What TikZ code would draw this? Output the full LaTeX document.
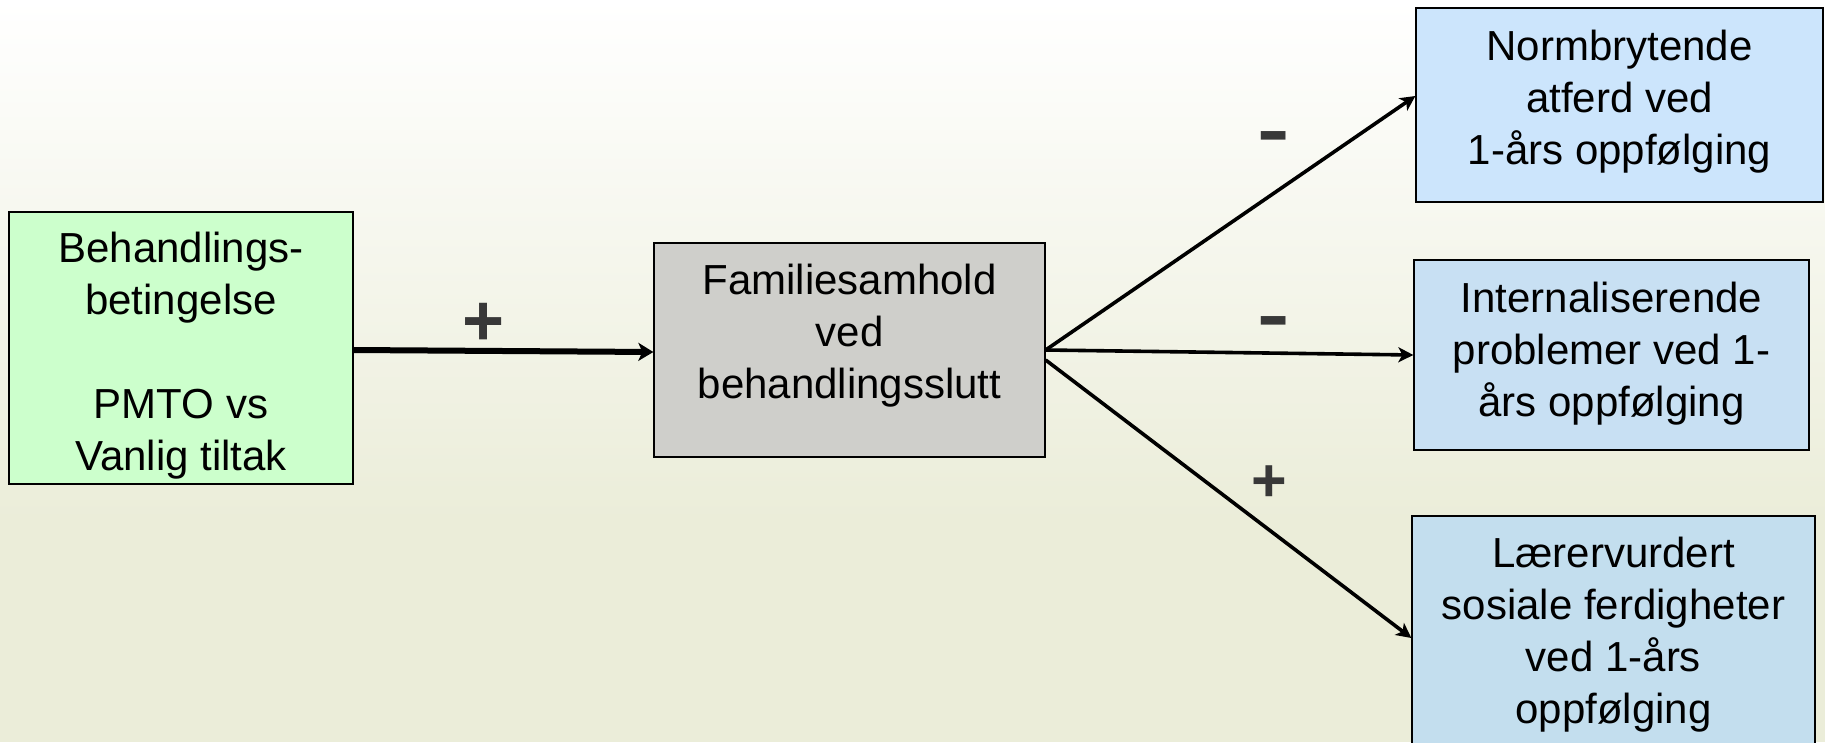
\documentclass[tikz,border=0pt]{standalone}
\usepackage{fontspec}
\setmainfont{Liberation Sans}
\usetikzlibrary{arrows.meta}
\definecolor{bgc}{HTML}{EBEDD9}
\definecolor{greenbox}{HTML}{CCFFCC}
\definecolor{graybox}{HTML}{CFCFCB}
\definecolor{blueA}{HTML}{CCE5FC}
\definecolor{blueB}{HTML}{C8E0F3}
\definecolor{blueC}{HTML}{C3DEEE}
\definecolor{signc}{HTML}{383838}
\tikzset{
  box/.style={draw=black, line width=1.3pt, inner sep=0pt},
  conn/.style={draw=black, line width=3.6pt, -{Stealth[length=15pt,width=15pt,inset=4pt]}},
  thickconn/.style={draw=black, line width=6pt, -{Stealth[length=15pt,width=18pt,inset=4pt]}},
  sign/.style={text=signc, font=\fontsize{72}{72}\selectfont\bfseries, inner sep=0pt},
  smallsign/.style={sign, font=\fontsize{61}{61}\selectfont\bfseries},
  txt/.style={align=center, font=\fontsize{42}{52}\selectfont, inner sep=0pt}
}
\begin{document}
\begin{tikzpicture}[x=1pt,y=-1pt]
\useasboundingbox (0,0) rectangle (1825,742);
\clip (0,0) rectangle (1825,742);
\shade[top color=white, bottom color=bgc] (0,0) rectangle (1825,520);
\fill[bgc] (0,519) rectangle (1825,742);

\node[box, fill=greenbox, minimum width=344pt, minimum height=272pt,
  label={[txt, yshift=-8pt]center:{Behandlings-\\betingelse\\[52pt]PMTO vs\\Vanlig tiltak}}] (beh) at (181,348) {};
\node[box, fill=graybox, minimum width=391pt, minimum height=214pt,
  label={[txt, yshift=14pt]center:{Familiesamhold\\ved\\behandlingsslutt}}] (fam) at (849.5,350) {};
\node[box, fill=blueA, minimum width=407pt, minimum height=194pt,
  label={[txt, yshift=3.5pt]center:{Normbrytende\\atferd ved\\1-års oppfølging}}] (nb) at (1619.5,105) {};
\node[box, fill=blueB, minimum width=395pt, minimum height=190pt,
  label={[txt, yshift=1pt]center:{Internaliserende\\problemer ved 1-\\års oppfølging}}] (ip) at (1611.5,355) {};
\node[box, fill=blueC, minimum width=403pt, minimum height=244pt,
  label={[txt, yshift=3.5pt]center:{Lærervurdert\\sosiale ferdigheter\\ved 1-års\\oppfølging}}] (ls) at (1613.5,638) {};

\draw[thickconn] ([yshift=-2pt]beh.east) -- ([yshift=-2pt]fam.west);
\draw[conn] (fam.east) -- ([yshift=9pt]nb.west);
\draw[conn] (fam.east) -- (ip.west);
\draw[conn] ([yshift=-10pt]fam.east) -- (ls.west);

\node[sign] (s1) at (484,324) {+};
\node[sign] (s2) at (1274,143) {\scalebox{1.35}[1]{-}};
\node[sign] (s3) at (1274,328) {\scalebox{1.35}[1]{-}};
\node[smallsign] (s4) at (1269,484) {+};
\end{tikzpicture}
\end{document}
